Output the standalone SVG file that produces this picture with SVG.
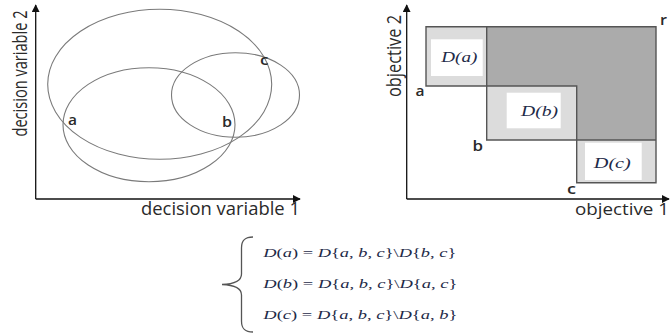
<svg xmlns="http://www.w3.org/2000/svg" width="671" height="335" viewBox="0 0 671 335">
<defs>
<style>
.axis{stroke:#111;stroke-width:1.3;fill:none}
.ell{stroke:#7a7a7a;stroke-width:1.1;fill:none}
.ax-lbl{font-family:"Open Sans","Liberation Sans",sans-serif;fill:#2a2a2a}
.pt{font-family:"Open Sans","Liberation Sans",sans-serif;font-weight:600;font-size:15px;fill:#2a2a2a}
.box{stroke:#555;stroke-width:1.4;fill:none}
.lt{fill:#dcdcdc}
.dk{fill:#ababab}
.wh{fill:#ffffff}
.dl{font-family:"Liberation Serif","DejaVu Serif",serif;font-style:italic;font-size:14px;fill:#1e2a48}
.fm{font-family:"Liberation Serif","DejaVu Serif",serif;font-size:13px;fill:#1e2a48}
.it{font-style:italic}
</style>
<marker id="arr" viewBox="0 0 10 10" refX="9" refY="5" markerWidth="8" markerHeight="8" markerUnits="userSpaceOnUse" orient="auto">
<path d="M0,0 L10,5 L0,10 Z" fill="#111"/>
</marker>
</defs>
<rect width="671" height="335" fill="#ffffff"/>

<g id="left-plot">
<g id="connectors-left">
<line class="axis" x1="35.7" y1="199" x2="35.7" y2="5" marker-end="url(#arr)"/>
<line class="axis" x1="35.7" y1="199" x2="300" y2="199" marker-end="url(#arr)"/>
</g>
<g id="ellipse-big"><ellipse class="ell" cx="159.7" cy="84.3" rx="112" ry="75"/></g>
<g id="ellipse-low"><ellipse class="ell" cx="149" cy="124.7" rx="86" ry="57"/></g>
<g id="ellipse-right"><ellipse class="ell" cx="235.5" cy="95" rx="64" ry="42.3"/></g>
<text class="ax-lbl" x="141" y="215" font-size="18" textLength="159" lengthAdjust="spacingAndGlyphs">decision variable 1</text>
<text class="ax-lbl" transform="translate(26.5,136.5) rotate(-90) scale(1,1.35)" x="0" y="0" font-size="14.5" textLength="126" lengthAdjust="spacingAndGlyphs">decision variable 2</text>
<g id="pt-a-left"><text class="pt" x="68" y="125" textLength="9" lengthAdjust="spacingAndGlyphs">a</text></g>
<g id="pt-b-left"><text class="pt" x="222" y="126.7" textLength="10" lengthAdjust="spacingAndGlyphs">b</text></g>
<g id="pt-c-left"><text class="pt" x="260" y="65" textLength="8.5" lengthAdjust="spacingAndGlyphs">c</text></g>
</g>

<g id="right-plot">
<g id="regions">
<rect class="lt" x="426" y="26.7" width="60.7" height="59.3"/>
<rect class="lt" x="486.7" y="86" width="90" height="54"/>
<rect class="lt" x="576.7" y="140" width="79.3" height="42.7"/>
<path class="dk" d="M486.7,26.7 H656 V140 H576.7 V86 H486.7 Z"/>
<rect class="wh" x="431" y="39.3" width="51.7" height="36.7"/>
<rect class="wh" x="506.7" y="92.7" width="54" height="35.6"/>
<rect class="wh" x="585" y="142.7" width="56.7" height="37.3"/>
</g>
<g id="connectors-right">
<line class="axis" x1="406.7" y1="199" x2="406.7" y2="5" marker-end="url(#arr)"/>
<line class="axis" x1="406.7" y1="199" x2="669" y2="199" marker-end="url(#arr)"/>
<path class="box" d="M426,26.7 H656 V182.7 H576.7 V86 H426 Z"/>
<path class="box" d="M486.7,26.7 V140 H656"/>
</g>
<g id="D-a"><text class="dl" x="459.3" y="62" text-anchor="middle" textLength="36" lengthAdjust="spacingAndGlyphs">D(a)</text></g>
<g id="D-b"><text class="dl" x="539.5" y="115.5" text-anchor="middle" textLength="37" lengthAdjust="spacingAndGlyphs">D(b)</text></g>
<g id="D-c"><text class="dl" x="612.3" y="168" text-anchor="middle" textLength="37" lengthAdjust="spacingAndGlyphs">D(c)</text></g>
<g id="pt-a-right"><text class="pt" x="415.5" y="96" textLength="9" lengthAdjust="spacingAndGlyphs">a</text></g>
<g id="pt-b-right"><text class="pt" x="472.5" y="150.7" textLength="10.5" lengthAdjust="spacingAndGlyphs">b</text></g>
<g id="pt-c-right"><text class="pt" x="567" y="194" textLength="9" lengthAdjust="spacingAndGlyphs">c</text></g>
<g id="pt-r-right"><text class="pt" x="660" y="25" textLength="7" lengthAdjust="spacingAndGlyphs">r</text></g>
<text class="ax-lbl" x="575" y="215" font-size="17" textLength="94" lengthAdjust="spacingAndGlyphs">objective 1</text>
<text class="ax-lbl" transform="translate(401,97) rotate(-90) scale(1,1.2)" x="0" y="0" font-size="16" textLength="82" lengthAdjust="spacingAndGlyphs">objective 2</text>
</g>

<g id="formula">
<path d="M253,237 C245,237 241.5,240 241.5,248 L241.5,274 C241.5,281 235,284 222,284.5 C235,285 241.5,288 241.5,295 L241.5,321 C241.5,329 245,332 253,332" fill="none" stroke="#555" stroke-width="1.3"/>
<text class="fm" x="263.3" y="256.7" textLength="193" lengthAdjust="spacingAndGlyphs"><tspan class="it">D</tspan>(<tspan class="it">a</tspan>) = <tspan class="it">D</tspan>{<tspan class="it">a</tspan>, <tspan class="it">b</tspan>, <tspan class="it">c</tspan>}\<tspan class="it">D</tspan>{<tspan class="it">b</tspan>, <tspan class="it">c</tspan>}</text>
<text class="fm" x="263.3" y="288.3" textLength="194" lengthAdjust="spacingAndGlyphs"><tspan class="it">D</tspan>(<tspan class="it">b</tspan>) = <tspan class="it">D</tspan>{<tspan class="it">a</tspan>, <tspan class="it">b</tspan>, <tspan class="it">c</tspan>}\<tspan class="it">D</tspan>{<tspan class="it">a</tspan>, <tspan class="it">c</tspan>}</text>
<text class="fm" x="263.3" y="319" textLength="194" lengthAdjust="spacingAndGlyphs"><tspan class="it">D</tspan>(<tspan class="it">c</tspan>) = <tspan class="it">D</tspan>{<tspan class="it">a</tspan>, <tspan class="it">b</tspan>, <tspan class="it">c</tspan>}\<tspan class="it">D</tspan>{<tspan class="it">a</tspan>, <tspan class="it">b</tspan>}</text>
</g>
</svg>
